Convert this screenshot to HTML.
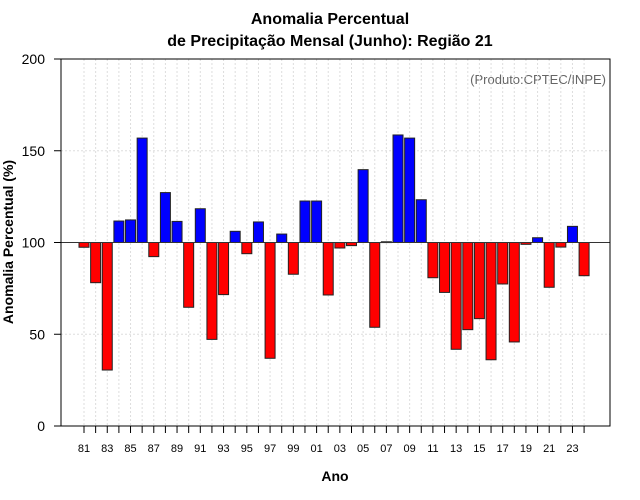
<!DOCTYPE html>
<html><head><meta charset="utf-8"><style>
body{margin:0;background:#fff}
svg{display:block;font-family:"Liberation Sans",sans-serif}
</style></head><body>
<svg id="c" width="640" height="500">
<text x="330" y="24" font-size="16" font-weight="bold" text-anchor="middle">Anomalia Percentual</text>
<text x="330" y="46" font-size="16" font-weight="bold" text-anchor="middle">de Precipitação Mensal (Junho): Região 21</text>
<text x="606" y="84" font-size="13" fill="#666" text-anchor="end">(Produto:CPTEC/INPE)</text>
<text x="335" y="481" font-size="14" font-weight="bold" text-anchor="middle">Ano</text>
<text transform="translate(13,242) rotate(-90)" font-size="14" font-weight="bold" text-anchor="middle">Anomalia Percentual (%)</text>
<g id="grid"></g><g id="bars"></g><g id="axes"></g>
<rect x="61" y="59" width="549" height="367" fill="none" stroke="#000"/>
</svg>
<script>
const years=[1981,1982,1983,1984,1985,1986,1987,1988,1989,1990,1991,1992,1993,1994,1995,1996,1997,1998,1999,2000,2001,2002,2003,2004,2005,2006,2007,2008,2009,2010,2011,2012,2013,2014,2015,2016,2017,2018,2019,2020,2021,2022,2023,2024];
const values=[97.4,78.1,30.5,111.7,112.3,156.9,92.3,127.2,111.5,64.7,118.4,47.2,71.6,106.1,93.9,111.2,36.9,104.6,82.7,122.6,122.6,71.4,97,98.3,139.7,53.8,100.4,158.6,156.9,123.3,80.8,72.8,41.8,52.5,58.5,36.1,77.4,45.8,99.0,102.6,75.6,97.5,108.8,81.9];
const yTicks=[0,50,100,150,200];
const NS='http://www.w3.org/2000/svg';
const X=i=>84+i*11.63;
const Y=v=>426-v*1.835;
function mk(t,a,p){const e=document.createElementNS(NS,t);for(const k in a)e.setAttribute(k,a[k]);p.appendChild(e);return e;}
const grid=document.getElementById('grid'),bars=document.getElementById('bars'),axes=document.getElementById('axes');
years.forEach((y,i)=>{
 const g=mk('line',{x1:X(i),x2:X(i),y1:59,y2:426,stroke:'#ddd','stroke-dasharray':'2,2'},grid);
 
 
});
yTicks.forEach(v=>{
 const g=mk('line',{x1:61,x2:610,y1:Y(v),y2:Y(v),stroke:'#ddd','stroke-dasharray':'2,2'},grid);
 
 
 const t=mk('line',{x1:54,x2:61,y1:Y(v),y2:Y(v),stroke:'#000'},axes);
 
 
 const l=mk('text',{x:45,y:Y(v)+5,'font-size':14,'text-anchor':'end'},axes);
 l.textContent=v;
 
 
});
const base=Y(100);
values.forEach((v,i)=>{
 const top=Math.min(Y(v),base),h=Math.abs(Y(v)-base);
 const r=mk('rect',{x:X(i)-5,y:top,width:10,height:Math.max(h,0.8),fill:v>=100?'#0000ff':'#ff0000',stroke:'#222','stroke-width':1},bars);
 
 
 const t=mk('line',{x1:X(i),x2:X(i),y1:426,y2:433,stroke:'#000'},axes);
 
 
 if(i%2===0){
  const l=mk('text',{x:X(i),y:452,'font-size':11,'text-anchor':'middle'},axes);
  l.textContent=String(years[i]).slice(2);
  
  
 }
});
const bl=mk('line',{x1:61,x2:610,y1:base,y2:base,stroke:'#333'},bars);


</script>
</body></html>
